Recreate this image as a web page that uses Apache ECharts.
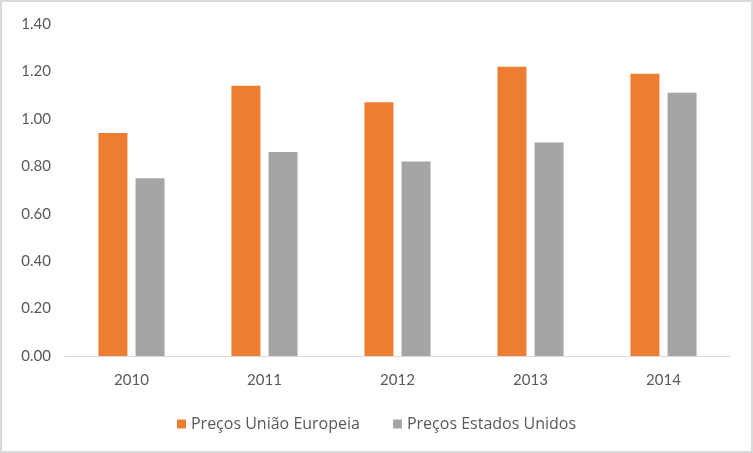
<!DOCTYPE html>
<html><head><meta charset="utf-8">
<script src="https://cdn.jsdelivr.net/npm/echarts@6/dist/echarts.min.js"></script>
<style>html,body{margin:0;padding:0;background:#fff}#c{width:753px;height:453px;box-sizing:border-box;border:2px solid #d9d9d9}</style>
</head><body><div id="c"></div>
<script>
const categories = ['2010','2011','2012','2013','2014'];
const seriesNames = ['Preços União Europeia','Preços Estados Unidos'];
const euPrices = [0.94, 1.14, 1.07, 1.22, 1.19];
const usPrices = [0.75, 0.86, 0.82, 0.90, 1.11];
const chart = echarts.init(document.getElementById('c'));
const font = 'Lato, "Open Sans", sans-serif';
chart.setOption({
  animation: false,
  textStyle: {fontFamily: font},
  grid: {left: 63, right: 21, top: 22, bottom: 95},
  legend: {
    bottom: 14, left: 'center', itemWidth: 9, itemHeight: 9, itemGap: 33, icon: 'rect',
    textStyle: {color: '#595959', fontSize: 16, fontFamily: '"Open Sans", sans-serif'},
    data: seriesNames
  },
  xAxis: {
    type: 'category', data: categories,
    axisLine: {lineStyle: {color: '#d9d9d9'}},
    axisTick: {show: false},
    axisLabel: {color: '#595959', fontSize: 15, margin: 17, fontFamily: font}
  },
  yAxis: {
    type: 'value', min: 0, max: 1.4, interval: 0.2,
    splitLine: {show: false},
    axisLine: {show: false}, axisTick: {show: false},
    axisLabel: {color: '#595959', fontSize: 15, margin: 14, fontFamily: font, formatter: v => v.toFixed(2)}
  },
  series: [
    {name: seriesNames[0], type: 'bar', data: euPrices, barWidth: 29, barGap: '28%', itemStyle: {color: '#ED7D31'}},
    {name: seriesNames[1], type: 'bar', data: usPrices, barWidth: 29, barGap: '28%', itemStyle: {color: '#A5A5A5'}}
  ]
});
</script></body></html>
